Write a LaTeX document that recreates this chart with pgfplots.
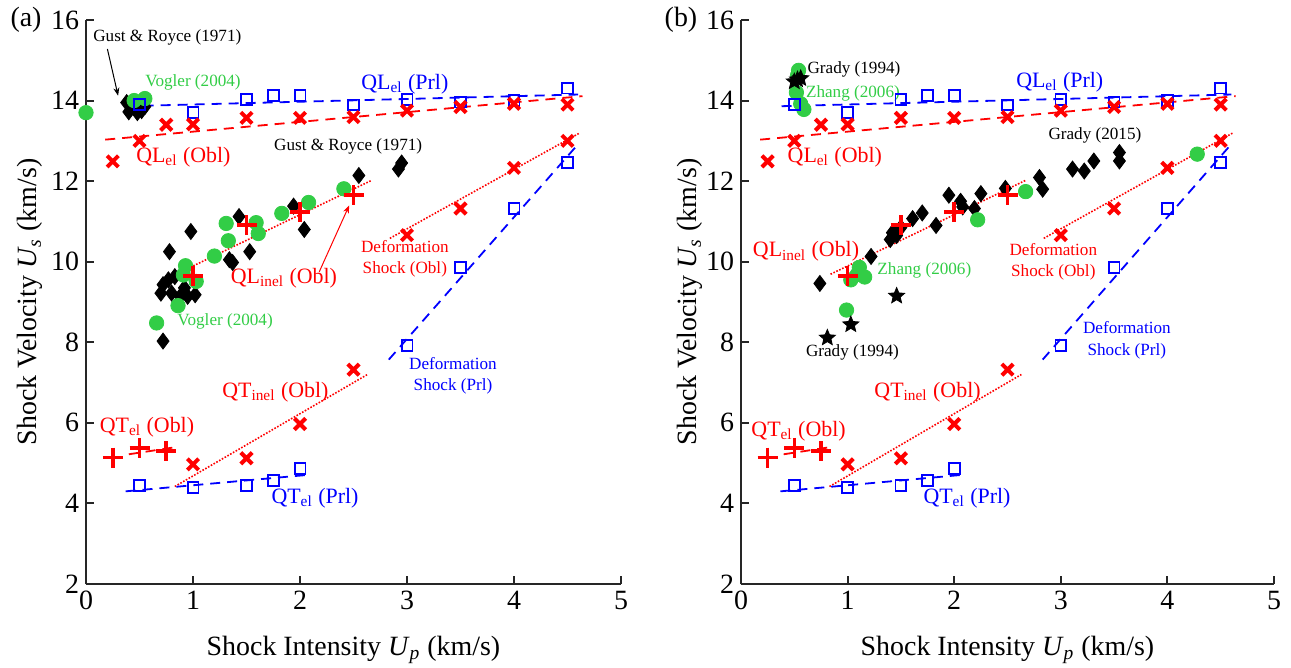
\documentclass[border=0pt]{standalone}
\usepackage{fontspec}
\setmainfont{Liberation Serif}
\usepackage{pgfplots}
\pgfplotsset{compat=1.18}
\usetikzlibrary{arrows.meta}
\definecolor{mgreen}{RGB}{50,205,70}
\definecolor{axgray}{RGB}{38,38,38}

\pgfdeclareplotmark{fstar}{%
  \pgfpathmoveto{\pgfpointpolar{90}{\pgfplotmarksize}}%
  \pgfpathlineto{\pgfpointpolar{126}{0.45\pgfplotmarksize}}%
  \pgfpathlineto{\pgfpointpolar{162}{\pgfplotmarksize}}%
  \pgfpathlineto{\pgfpointpolar{198}{0.45\pgfplotmarksize}}%
  \pgfpathlineto{\pgfpointpolar{234}{\pgfplotmarksize}}%
  \pgfpathlineto{\pgfpointpolar{270}{0.45\pgfplotmarksize}}%
  \pgfpathlineto{\pgfpointpolar{306}{\pgfplotmarksize}}%
  \pgfpathlineto{\pgfpointpolar{342}{0.45\pgfplotmarksize}}%
  \pgfpathlineto{\pgfpointpolar{18}{\pgfplotmarksize}}%
  \pgfpathlineto{\pgfpointpolar{54}{0.45\pgfplotmarksize}}%
  \pgfpathclose
  \pgfusepathqfillstroke
}

\newcommand{\bigf}{\fontsize{11}{13}\selectfont}
\newcommand{\smf}{\fontsize{8.6}{10.6}\selectfont}
\newcommand{\tkf}{\fontsize{14}{16}\selectfont}

\pgfplotsset{
  myax/.style={
    scale only axis, height=282bp,
    xmin=0, xmax=5, ymin=2, ymax=16,
    axis x line=bottom, axis y line=left,
    axis line style={-, axgray, line width=1.2bp},
    tick align=inside, major tick length=4bp,
    every tick/.style={axgray, line width=1bp},
    xtick={0,1,2,3,4,5}, ytick={2,4,6,8,10,12,14,16},
    tick label style={font=\tkf, text=black},
    /pgf/number format/assume math mode=true,
    xlabel={Shock Intensity \textit{U}\textsubscript{\textit{p}} (km/s)},
    ylabel={Shock Velocity \textit{U}\textsubscript{\textit{s}} (km/s)},
    label style={font=\tkf},
    xlabel style={at={(axis description cs:0.5,-0.117)}, anchor=center},
    clip=false,
  },
  bdash/.style={blue, line width=0.9bp, dash pattern=on 5bp off 3.5bp, no marks},
  rdash/.style={red, line width=0.9bp, dash pattern=on 5bp off 3.5bp, no marks},
  rdot/.style={red, line width=0.8bp, dash pattern=on 0.8bp off 0.8bp, no marks},
  bsq/.style={only marks, mark=square, mark size=2.7bp, blue, mark options={line width=0.9bp, solid}},
  rx/.style={only marks, mark=x, mark size=4bp, red, mark options={line width=2bp}},
  rp/.style={only marks, mark=+, mark size=5bp, red, mark options={line width=1.8bp}},
  kd/.style={only marks, mark=diamond*, mark size=4bp, black},
  gc/.style={only marks, mark=*, mark size=3.6bp, mgreen, mark options={draw=mgreen, fill=mgreen}},
  ks/.style={only marks, mark=fstar, mark size=4.2bp, black},
}

\newcommand{\modelplots}{%
  \addplot[bdash] coordinates {(0.38,13.86) (4.6,14.15)};
  \addplot[rdash] coordinates {(0.18,13.03) (4.64,14.11)};
  \addplot[rdot] coordinates {(0.84,9.69) (2.67,12.02)};
  \addplot[rdot] coordinates {(2.84,10.58) (4.61,13.19)};
  \addplot[bdash] coordinates {(2.83,7.57) (4.59,12.89)};
  \addplot[rdot] coordinates {(0.83,4.42) (2.63,7.20)};
  \addplot[rdash] coordinates {(0.40,5.22) (0.87,5.41)};
  \addplot[bdash] coordinates {(0.37,4.30) (2.08,4.71)};
  \addplot[bsq] coordinates {(0.5,13.90) (1.0,13.71) (1.5,14.02) (1.75,14.13) (2.0,14.13) (2.5,13.89) (3.0,14.02) (3.5,13.96) (4.0,14.0) (4.5,14.31)};
  \addplot[bsq] coordinates {(3.0,7.92) (3.5,9.86) (4.0,11.32) (4.5,12.47)};
  \addplot[bsq] coordinates {(0.5,4.44) (1.0,4.40) (1.5,4.44) (1.75,4.57) (2.0,4.87)};
  \addplot[rx] coordinates {(0.25,12.49) (0.5,13.0) (0.75,13.40) (1.0,13.41) (1.5,13.57) (2.0,13.57) (2.5,13.59) (3.0,13.75) (3.5,13.84) (4.0,13.92) (4.5,13.90)};
  \addplot[rx] coordinates {(3.0,10.66) (3.5,11.32) (4.0,12.33) (4.5,13.0)};
  \addplot[rx] coordinates {(1.0,4.97) (1.5,5.12) (2.0,5.97) (2.5,7.32)};
  \addplot[rp] coordinates {(1.0,9.65) (1.5,10.91) (2.0,11.24) (2.5,11.65)};
  \addplot[rp] coordinates {(0.25,5.14) (0.5,5.38) (0.75,5.30)};
}

\begin{document}
\begin{tikzpicture}
\useasboundingbox (0,0) rectangle (645.5bp,334bp);
\node[font=\tkf, anchor=center] at (13bp,324bp) {(a)};
\node[font=\tkf, anchor=center] at (340.5bp,324bp) {(b)};

% ---------------- (a) ----------------
\begin{axis}[myax, width=267.5bp, at={(43bp,42bp)}, anchor=south west,
  ylabel style={at={(axis description cs:-0.105,0.5)}, anchor=center}]
  % Gust & Royce (1971)
  \addplot[kd] coordinates {(0.38,13.95) (0.40,13.72) (0.45,13.85) (0.48,13.70) (0.52,13.75) (0.55,13.85)
    (0.72,8.03) (0.70,9.22) (0.72,9.43) (0.77,9.55) (0.80,9.22) (0.83,9.63) (0.88,9.14) (0.92,9.35) (0.95,9.14) (1.02,9.18)
    (0.78,10.25) (0.98,10.75) (1.34,10.05) (1.37,9.98) (1.43,11.12) (1.53,10.25) (1.94,11.38) (2.04,10.80) (2.55,12.14) (2.92,12.30) (2.95,12.45)};
  % Vogler (2004)
  \addplot[gc] coordinates {(0.0,13.70) (0.45,14.0) (0.55,14.05)
    (0.66,8.48) (0.86,8.91) (0.91,9.67) (0.93,9.90) (1.03,9.51) (1.20,10.14) (1.33,10.52) (1.31,10.95) (1.59,10.97) (1.61,10.70) (1.83,11.20) (2.08,11.47) (2.41,11.81)};
  \modelplots
  \node[font=\smf, inner sep=0] at (axis cs:0.76,15.58) {Gust \& Royce (1971)};
  \draw[-{Stealth[length=4bp,width=3bp]}, black, line width=0.5bp] (axis cs:0.2,15.28) -- (axis cs:0.3,14.12);
  \node[font=\smf, text=mgreen, inner sep=0] at (axis cs:1.0,14.45) {Vogler (2004)};
  \node[font=\bigf, text=blue, inner sep=0] at (axis cs:2.98,14.41) {QL\textsubscript{el} (Prl)};
  \node[font=\bigf, text=red, inner sep=0] at (axis cs:0.91,12.6) {QL\textsubscript{el} (Obl)};
  \node[font=\smf, inner sep=0] at (axis cs:2.45,12.85) {Gust \& Royce (1971)};
  \node[font=\bigf, text=red, inner sep=0] at (axis cs:1.85,9.6) {QL\textsubscript{inel} (Obl)};
  \draw[-{Stealth[length=4bp,width=3bp]}, red, line width=0.5bp] (axis cs:2.18,9.75) -- (axis cs:2.46,11.4);
  \node[font=\smf, text=mgreen, inner sep=0] at (axis cs:1.3,8.52) {Vogler (2004)};
  \node[font=\smf, text=red, inner sep=0, align=center] at (axis cs:2.98,10.08) {Deformation\\Shock (Obl)};
  \node[font=\smf, text=blue, inner sep=0, align=center] at (axis cs:3.43,7.16) {Deformation\\Shock (Prl)};
  \node[font=\bigf, text=red, inner sep=0] at (axis cs:1.77,6.77) {QT\textsubscript{inel} (Obl)};
  \node[font=\bigf, text=red, inner sep=0] at (axis cs:0.57,5.9) {QT\textsubscript{el} (Obl)};
  \node[font=\bigf, text=blue, inner sep=0] at (axis cs:2.14,4.13) {QT\textsubscript{el} (Prl)};
\end{axis}

% ---------------- (b) ----------------
\begin{axis}[myax, width=266.5bp, at={(370.5bp,42bp)}, anchor=south west,
  ylabel style={at={(axis description cs:-0.096,0.5)}, anchor=center}]
  % Grady (2015)
  \addplot[kd] coordinates {(0.74,9.46) (1.22,10.13) (1.40,10.55) (1.42,10.72) (1.46,10.65) (1.50,10.85) (1.61,11.07) (1.70,11.21) (1.83,10.90)
    (1.95,11.65) (2.06,11.50) (2.08,11.36) (2.19,11.32) (2.25,11.69) (2.48,11.82) (2.80,12.09) (2.83,11.80) (3.11,12.30) (3.22,12.25) (3.31,12.50) (3.55,12.71) (3.55,12.50)};
  % Zhang (2006)
  \addplot[gc] coordinates {(0.54,14.75) (0.53,14.62) (0.52,14.20) (0.56,13.92) (0.59,13.78)
    (0.99,8.80) (1.03,9.55) (1.09,9.68) (1.11,9.86) (1.16,9.62) (2.22,11.04) (2.67,11.74) (4.28,12.67)};
  % Grady (1994)
  \addplot[ks] coordinates {(0.50,14.47) (0.53,14.52) (0.56,14.55) (0.81,8.11) (1.03,8.44) (1.46,9.15)};
  \modelplots
  \node[font=\smf, inner sep=0] at (axis cs:1.06,14.78) {Grady (1994)};
  \node[font=\smf, text=mgreen, inner sep=0] at (axis cs:1.05,14.18) {Zhang (2006)};
  \node[font=\bigf, text=blue, inner sep=0] at (axis cs:2.99,14.45) {QL\textsubscript{el} (Prl)};
  \node[font=\bigf, text=red, inner sep=0] at (axis cs:0.88,12.6) {QL\textsubscript{el} (Obl)};
  \node[font=\smf, inner sep=0] at (axis cs:3.32,13.13) {Grady (2015)};
  \node[font=\bigf, text=red, inner sep=0] at (axis cs:0.61,10.25) {QL\textsubscript{inel} (Obl)};
  \node[font=\smf, text=mgreen, inner sep=0] at (axis cs:1.72,9.78) {Zhang (2006)};
  \node[font=\smf, text=red, inner sep=0, align=center] at (axis cs:2.93,9.99) {Deformation\\Shock (Obl)};
  \node[font=\smf, inner sep=0] at (axis cs:1.045,7.75) {Grady (1994)};
  \node[font=\smf, text=blue, inner sep=0, align=center] at (axis cs:3.62,8.05) {Deformation\\Shock (Prl)};
  \node[font=\bigf, text=red, inner sep=0] at (axis cs:1.75,6.77) {QT\textsubscript{inel} (Obl)};
  \node[font=\bigf, text=red, inner sep=0] at (axis cs:0.54,5.8) {QT\textsubscript{el} (Obl)};
  \node[font=\bigf, text=blue, inner sep=0] at (axis cs:2.12,4.13) {QT\textsubscript{el} (Prl)};
\end{axis}
\end{tikzpicture}
\end{document}
